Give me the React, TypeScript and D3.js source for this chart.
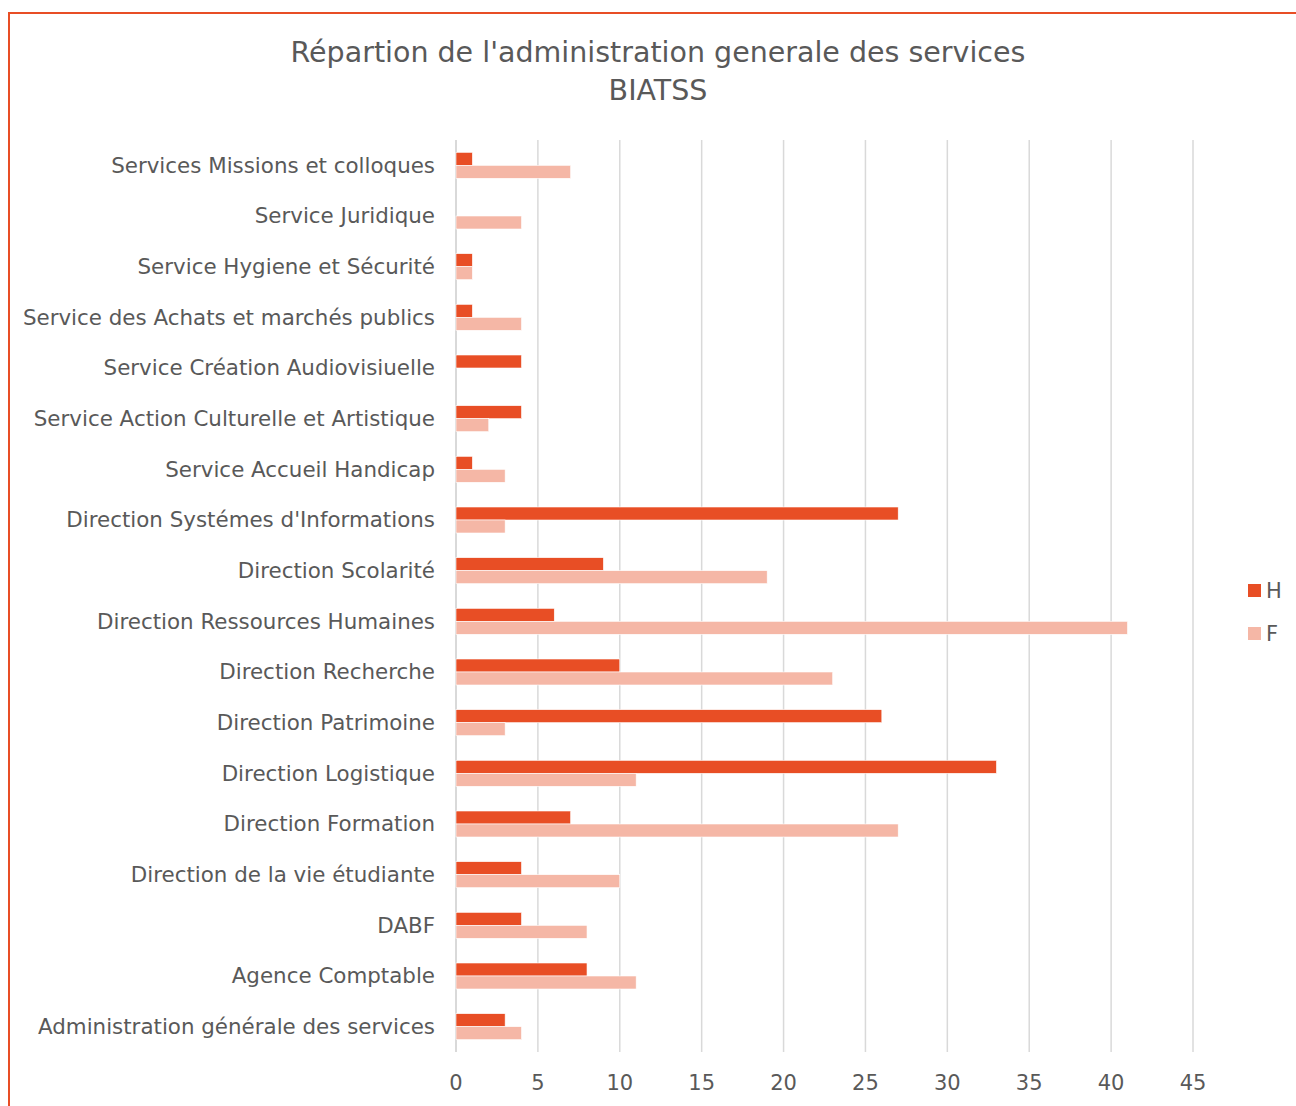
import * as d3 from "d3";

const categories = [
  "Services Missions et colloques",
  "Service Juridique",
  "Service Hygiene et Sécurité",
  "Service des Achats et marchés publics",
  "Service Création Audiovisiuelle",
  "Service Action Culturelle et Artistique",
  "Service Accueil Handicap",
  "Direction Systémes d'Informations",
  "Direction Scolarité",
  "Direction Ressources Humaines",
  "Direction Recherche",
  "Direction Patrimoine",
  "Direction Logistique",
  "Direction Formation",
  "Direction de la vie étudiante",
  "DABF",
  "Agence Comptable",
  "Administration générale des services",
];

const hommes = [1, 0, 1, 1, 4, 4, 1, 27, 9, 6, 10, 26, 33, 7, 4, 4, 8, 3];
const femmes = [7, 4, 1, 4, 0, 2, 3, 3, 19, 41, 23, 3, 11, 27, 10, 8, 11, 4];

const series = [
  { key: "H", values: hommes, color: "#E84E25" },
  { key: "F", values: femmes, color: "#F5B7A6" },
];

const xTicks = [0, 5, 10, 15, 20, 25, 30, 35, 40, 45];

const W = 1296;
const H = 1106;
const font = "'DejaVu Sans', sans-serif";
const textColor = "#595959";

export default function App() {
  const x = d3.scaleLinear().domain([0, 45]).range([456, 1193]);
  const y = d3.scaleBand().domain(categories).range([140, 1052]).paddingInner(0.487).paddingOuter(0.2435);
  const inner = d3.scaleBand().domain(series.map((s) => s.key)).range([0, y.bandwidth()]);

  return (
    <svg width={W} height={H} style={{ position: "absolute", left: 0, top: 0 }}>
      <rect width={W} height={H} fill="#fff" />
      <path d={`M9,${H} V13 H${W}`} fill="none" stroke="#E84E25" strokeWidth={2} />

      <text x={658} y={62} textAnchor="middle" fontFamily={font} fontSize={28.5} fill={textColor}>
        Répartion de l'administration generale des services
      </text>
      <text x={658} y={100} textAnchor="middle" fontFamily={font} fontSize={28.5} fill={textColor}>
        BIATSS
      </text>

      {xTicks.map((t) => (
        <g key={t}>
          <line x1={x(t)} x2={x(t)} y1={140} y2={1052} stroke="#D9D9D9" strokeWidth={t === 0 ? 2 : 1.5} />
          <text x={x(t)} y={1090} textAnchor="middle" fontFamily={font} fontSize={21} fill={textColor}>
            {t}
          </text>
        </g>
      ))}

      {categories.map((c, i) => (
        <g key={c}>
          <text
            x={435}
            y={(y(c) ?? 0) + y.bandwidth() / 2}
            dy="0.35em"
            textAnchor="end"
            fontFamily={font}
            fontSize={21.4}
            fill={textColor}
          >
            {c}
          </text>
          {series.map((s) =>
            s.values[i] > 0 ? (
              <rect
                key={s.key}
                x={x(0)}
                y={(y(c) ?? 0) + (inner(s.key) ?? 0)}
                width={x(s.values[i]) - x(0)}
                height={inner.bandwidth()}
                fill={s.color}
                stroke="#fff"
                strokeWidth={0.6}
              />
            ) : null
          )}
        </g>
      ))}

      {series.map((s, i) => (
        <g key={s.key} transform={`translate(1248, ${584 + i * 43})`}>
          <rect width={13} height={13} fill={s.color} />
          <text x={18} y={14} fontFamily={font} fontSize={21} fill={textColor}>
            {s.key}
          </text>
        </g>
      ))}
    </svg>
  );
}
